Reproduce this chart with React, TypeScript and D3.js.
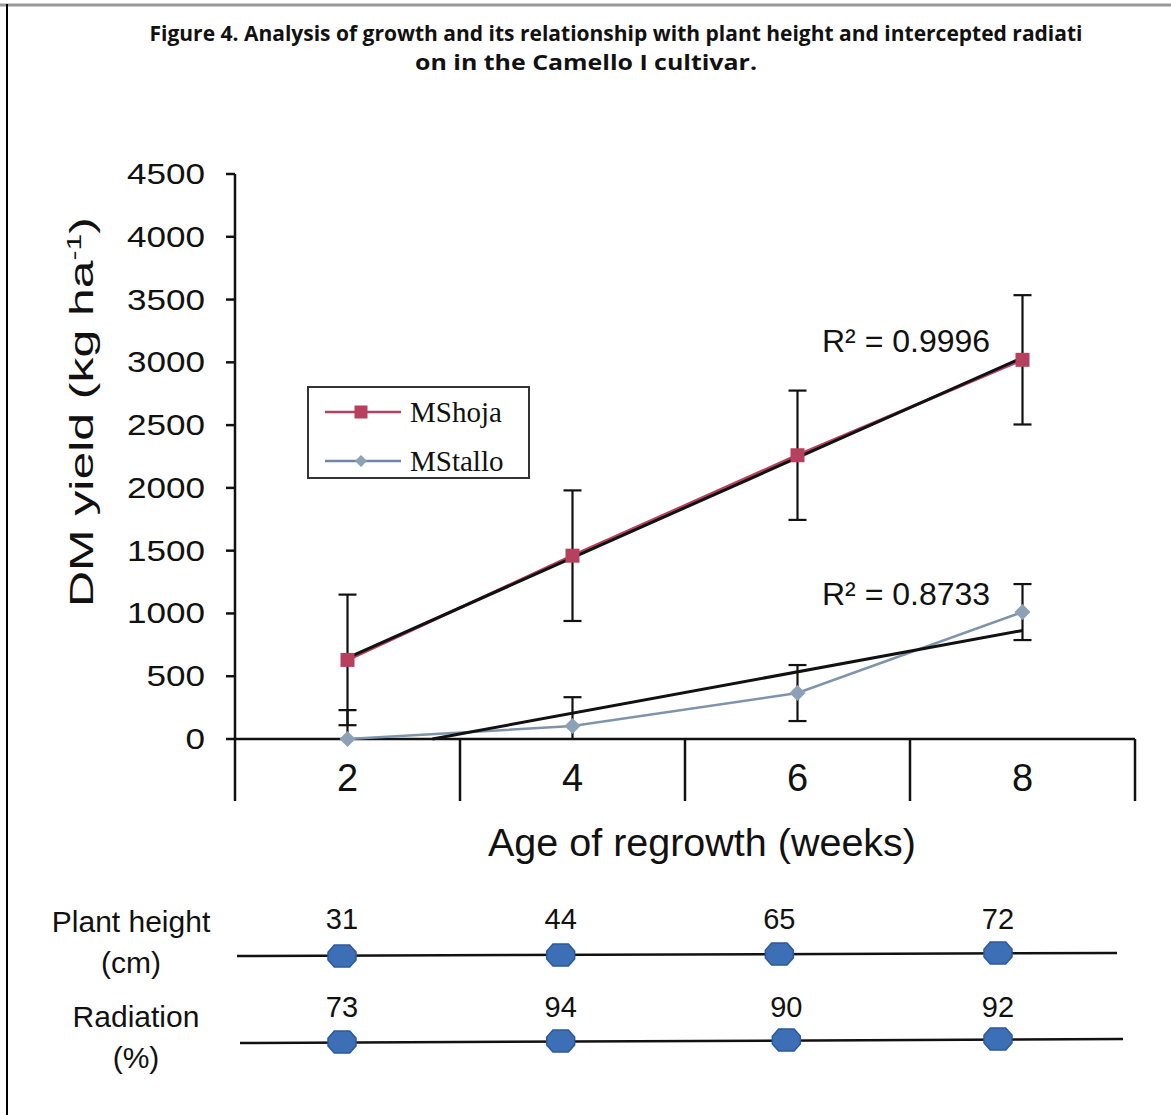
import React from 'react';
import * as d3 from 'd3';

// chart values
const weeks = ['2', '4', '6', '8'];
const msHoja = [630, 1460, 2260, 3020];
const msHojaErr = [520, 520, 515, 515];
const msTallo = [0, 103, 366, 1011];
const msTalloErr = [230, 230, 223, 223];
const r2Labels = ['R² = 0.9996', 'R² = 0.8733'];
const yTicks = [0, 500, 1000, 1500, 2000, 2500, 3000, 3500, 4000, 4500];
const plantHeight = [31, 44, 65, 72];
const radiation = [73, 94, 90, 92];

const W = 1171;
const H = 1115;
const left = 235, right = 1135, top = 174, bottom = 739;

const x = d3.scaleBand().domain(weeks).range([left, right]).paddingInner(0).paddingOuter(0);
const cx = (w) => x(w) + x.bandwidth() / 2;
const y = d3.scaleLinear().domain([0, 4500]).range([bottom, top]);
const tx = d3.scalePoint().domain(weeks).range([342, 998]);

const lineGen = d3.line().x((d) => cx(d[0])).y((d) => y(d[1]));

// least squares fit on category index 1..n, like an Excel linear trendline
const trend = (vals) => {
  const xs = vals.map((_, i) => i + 1);
  const mx = d3.mean(xs), my = d3.mean(vals);
  const slope = d3.sum(xs, (v, i) => (v - mx) * (vals[i] - my)) / d3.sum(xs, (v) => (v - mx) ** 2);
  const icpt = my - slope * mx;
  const step = x.bandwidth();
  const px = (i) => cx(weeks[0]) + (i - 1) * step;
  let x0 = 1;
  if (icpt + slope * x0 < 0) x0 = -icpt / slope;
  const x1 = vals.length;
  return [[px(x0), y(icpt + slope * x0)], [px(x1), y(icpt + slope * x1)]];
};

const font = 'Arial, "Liberation Sans", Helvetica, sans-serif';

const hexPath = (px, py) => {
  const rx = 14, ry = 11;
  return `M${px - rx},${py - ry * 0.35} L${px - rx * 0.55},${py - ry} L${px + rx * 0.55},${py - ry} L${px + rx},${py - ry * 0.35} L${px + rx},${py + ry * 0.35} L${px + rx * 0.55},${py + ry} L${px - rx * 0.55},${py + ry} L${px - rx},${py + ry * 0.35} Z`;
};

const Square = ({ px, py, s = 14 }) => (
  <rect x={px - s / 2} y={py - s / 2} width={s} height={s} fill="#b5415f" />
);
const Diamond = ({ px, py, s = 8 }) => (
  <path d={`M${px},${py - s} L${px + s},${py} L${px},${py + s} L${px - s},${py} Z`} fill="#8da1b6" />
);

const App = () => {
  const hojaPts = weeks.map((w, i) => [w, msHoja[i]]);
  const talloPts = weeks.map((w, i) => [w, msTallo[i]]);
  const hojaTrend = trend(msHoja);
  const talloTrend = trend(msTallo);

  const errBars = (vals, errs, key) =>
    weeks.map((w, i) => {
      const px = cx(w);
      const y0 = y(Math.max(0, vals[i] - errs[i]));
      const y1 = y(vals[i] + errs[i]);
      return (
        <g key={key + i} stroke="#111" strokeWidth={2.2}>
          <line x1={px} x2={px} y1={y0} y2={y1} />
          <line x1={px - 9} x2={px + 9} y1={y1} y2={y1} />
          {vals[i] - errs[i] > 0 && <line x1={px - 9} x2={px + 9} y1={y0} y2={y0} />}
        </g>
      );
    });

  return (
    <svg width={W} height={H} style={{ position: 'absolute', left: 0, top: 0, background: '#fff' }} fontFamily={font}>
      {/* frame */}
      <line x1={0} x2={W} y1={5} y2={5} stroke="#999" strokeWidth={3} />
      <line x1={7} x2={7} y1={4} y2={H} stroke="#000" strokeWidth={2} />

      {/* title */}
      <g fontFamily='"Open Sans", "Noto Sans", sans-serif' fontWeight={700} fontSize={22} fill="#111" textAnchor="middle">
        <text x={616} y={41} textLength={933} lengthAdjust="spacingAndGlyphs">
          Figure 4. Analysis of growth and its relationship with plant height and intercepted radiati
        </text>
        <text x={586} y={70} textLength={342} lengthAdjust="spacingAndGlyphs">
          on in the Camello I cultivar.
        </text>
      </g>

      {/* axes */}
      <g stroke="#111" strokeWidth={2.5}>
        <line x1={left} x2={left} y1={top} y2={801} />
        <line x1={left} x2={right} y1={bottom} y2={bottom} />
        {yTicks.map((t) => (
          <line key={t} x1={left - 9} x2={left} y1={y(t)} y2={y(t)} />
        ))}
        {weeks.map((w) => (
          <line key={w} x1={x(w) + x.bandwidth()} x2={x(w) + x.bandwidth()} y1={bottom} y2={801} />
        ))}
      </g>
      <g fontSize={30} fill="#111" textAnchor="end">
        {yTicks.map((t) => (
          <text key={t} x={205} y={y(t) + 10} textLength={String(t).length * 19.5} lengthAdjust="spacingAndGlyphs">
            {t}
          </text>
        ))}
      </g>
      <g fontSize={38} fill="#111" textAnchor="middle">
        {weeks.map((w) => (
          <text key={w} x={cx(w)} y={791}>
            {w}
          </text>
        ))}
      </g>
      <text x={702} y={856} fontSize={38} textAnchor="middle" fill="#111" textLength={428} lengthAdjust="spacingAndGlyphs">
        Age of regrowth (weeks)
      </text>
      <text
        transform="translate(93,412) rotate(-90)"
        fontSize={33}
        textAnchor="middle"
        fill="#111"
        textLength={390}
        lengthAdjust="spacingAndGlyphs"
      >
        DM yield (kg ha<tspan dy={-12} fontSize={20}>-1</tspan><tspan dy={12}>)</tspan>
      </text>

      {/* series */}
      <path d={lineGen(hojaPts)} fill="none" stroke="#b5415f" strokeWidth={3} />
      <path d={lineGen(talloPts)} fill="none" stroke="#7f94ab" strokeWidth={2.5} />
      <line x1={hojaTrend[0][0]} y1={hojaTrend[0][1]} x2={hojaTrend[1][0]} y2={hojaTrend[1][1]} stroke="#111" strokeWidth={3} />
      <line x1={talloTrend[0][0]} y1={talloTrend[0][1]} x2={talloTrend[1][0]} y2={talloTrend[1][1]} stroke="#111" strokeWidth={3} />
      {errBars(msHoja, msHojaErr, 'h')}
      {errBars(msTallo, msTalloErr, 't')}
      {hojaPts.map((d) => (
        <Square key={d[0]} px={cx(d[0])} py={y(d[1])} />
      ))}
      {talloPts.map((d) => (
        <Diamond key={d[0]} px={cx(d[0])} py={y(d[1])} />
      ))}

      {/* r squared */}
      <g fontSize={32} fill="#111">
        <text x={822} y={352}>{r2Labels[0]}</text>
        <text x={822} y={605}>{r2Labels[1]}</text>
      </g>

      {/* legend */}
      <rect x={308} y={387} width={221} height={91} fill="#fff" stroke="#333" strokeWidth={2} />
      <line x1={325} x2={401} y1={412} y2={412} stroke="#b5415f" strokeWidth={2.5} />
      <Square px={361} py={412} s={13} />
      <line x1={325} x2={401} y1={461} y2={461} stroke="#6f86a6" strokeWidth={2.5} />
      <Diamond px={361} py={461} s={6} />
      <g fontFamily='"Liberation Serif", "DejaVu Serif", serif' fontSize={29} fill="#111">
        <text x={410} y={422}>MShoja</text>
        <text x={410} y={471}>MStallo</text>
      </g>

      {/* table of plant height and radiation */}
      <g fontSize={30} fill="#111" textAnchor="middle">
        <text x={131} y={932}>Plant height</text>
        <text x={131} y={973}>(cm)</text>
        <text x={136} y={1027}>Radiation</text>
        <text x={136} y={1068}>(%)</text>
      </g>
      <line x1={237} x2={1117} y1={956} y2={953} stroke="#111" strokeWidth={2.5} />
      <line x1={240} x2={1123} y1={1043} y2={1039} stroke="#111" strokeWidth={2.5} />
      <g fontSize={29} fill="#111" textAnchor="middle">
        {weeks.map((w, i) => (
          <g key={w}>
            <path d={hexPath(tx(w), 956 - i)} fill="#3c6fb6" stroke="#2d5a99" strokeWidth={1.5} />
            <text x={tx(w)} y={929}>{plantHeight[i]}</text>
            <path d={hexPath(tx(w) + (i === 2 ? 7 : 0), 1042 - i)} fill="#3c6fb6" stroke="#2d5a99" strokeWidth={1.5} />
            <text x={tx(w) + (i === 2 ? 7 : 0)} y={1017}>{radiation[i]}</text>
          </g>
        ))}
      </g>
    </svg>
  );
};

export default App;
